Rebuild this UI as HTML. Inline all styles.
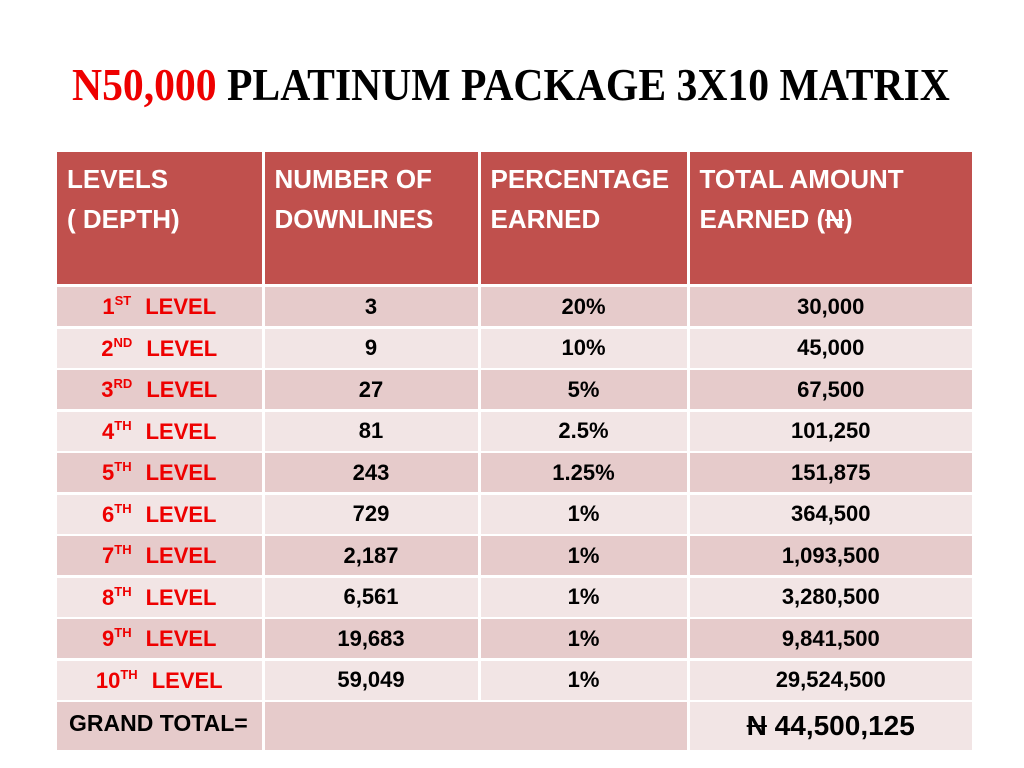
<!DOCTYPE html>
<html><head><meta charset="utf-8"><style>
body{margin:0;width:1024px;height:768px;background:#fff;position:relative;overflow:hidden;font-family:"Liberation Sans",sans-serif}
#title{position:absolute;left:72px;top:58px;white-space:nowrap;font-family:"Liberation Serif",serif;font-weight:bold;font-size:46px;line-height:54px;transform-origin:0 0}
#title .r{color:#e00}
.c{position:absolute;box-sizing:border-box;display:flex;align-items:center;justify-content:center;font-weight:bold;font-size:22px;color:#000;white-space:nowrap}
.h{display:block;background:#C0504D;color:#fff;font-weight:bold;font-size:26px;line-height:40px;padding:7px 0 0 10px}
.lv{color:#e00}
sup{font-size:13px;vertical-align:9px;margin-right:14px}
</style></head><body>
<div id="title"><span class="r">N50,000</span> PLATINUM PACKAGE 3X10 MATRIX</div>
<div id="tbl"></div>
<script>
const levels=["1|ST","2|ND","3|RD","4|TH","5|TH","6|TH","7|TH","8|TH","9|TH","10|TH"];
const downlines=["3","9","27","81","243","729","2,187","6,561","19,683","59,049"];
const percents=["20%","10%","5%","2.5%","1.25%","1%","1%","1%","1%","1%"];
const amounts=["30,000","45,000","67,500","101,250","151,875","364,500","1,093,500","3,280,500","9,841,500","29,524,500"];
const headers=["LEVELS<br>( DEPTH)","NUMBER OF<br>DOWNLINES","PERCENTAGE<br>EARNED","TOTAL AMOUNT<br>EARNED (<s>N</s>)"];
const colX=[57,263,479,688,972];
const tbl=document.getElementById('tbl');
function cell(x0,x1,y0,y1,cls,html,bg){
  const d=document.createElement('div');
  d.className='c '+cls;
  const l=x0==57?x0:x0+1.5;
  const r=x1==972?x1:x1-1.5;
  d.style.left=l+'px';d.style.width=(r-l)+'px';
  d.style.top=y0+'px';d.style.height=(y1-y0)+'px';
  if(bg)d.style.background=bg;
  d.innerHTML=html;tbl.appendChild(d);return d;
}
for(let i=0;i<4;i++){
  const d=cell(colX[i],colX[i+1],152,284,'h',headers[i]);
  
  
}
const rowH=41.5;
for(let r=0;r<10;r++){
  const y0=287+r*rowH,y1=y0+rowH-2.5;
  const bg=r%2==0?'#E6CBCB':'#F2E5E5';
  const [n,s]=levels[r].split('|');
  const vals=[`<span class="lv">${n}<sup>${s}</sup>LEVEL</span>`,downlines[r],percents[r],amounts[r]];
  for(let i=0;i<4;i++){
    const d=cell(colX[i],colX[i+1],y0,y1,'',vals[i],bg);
    
    
  }
}
const g0=702,g1=750;
let d=cell(57,263,g0,g1,'','GRAND TOTAL=','#E6CBCB');d.style.justifyContent='flex-start';d.style.paddingLeft='12px';d.style.alignItems='flex-start';d.style.paddingTop='8px';d.style.fontSize='23px';


d=cell(263,688,g0,g1,'','','#E6CBCB');


d=cell(688,972,g0,g1,'','<s>N</s>&nbsp;44,500,125','#F2E5E5');d.style.fontSize='28px';


const t=document.getElementById('title');
t.style.transform='scaleX('+(878/t.scrollWidth)+')';
</script>
</body></html>
